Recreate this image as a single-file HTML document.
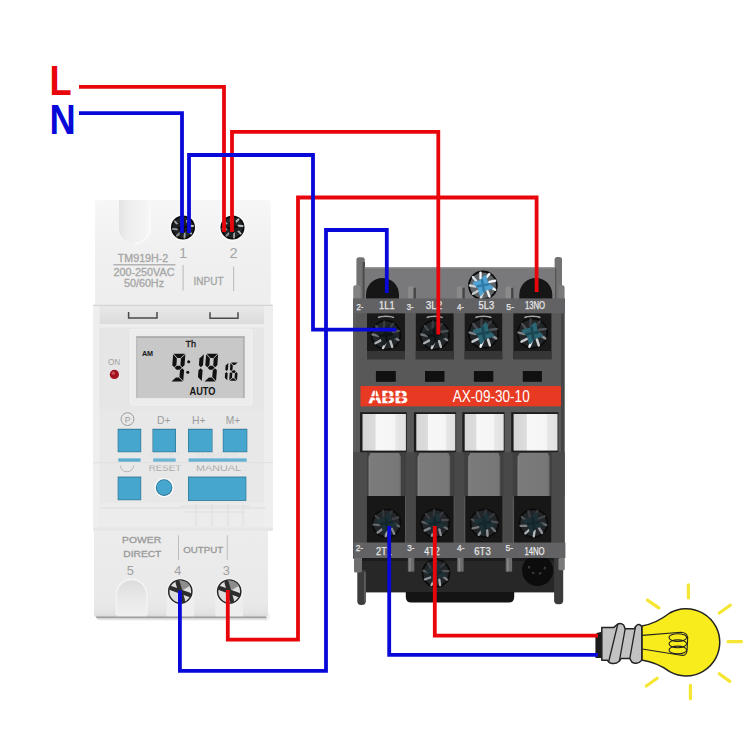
<!DOCTYPE html>
<html><head><meta charset="utf-8"><title>wiring</title>
<style>
html,body{margin:0;padding:0;background:#fff;}
body{width:750px;height:750px;overflow:hidden;font-family:"Liberation Sans",sans-serif;}
svg{display:block;font-family:"Liberation Sans",sans-serif;}
</style></head><body>
<svg width="750" height="750" viewBox="0 0 750 750">
<defs>
<linearGradient id="tbody" x1="0" x2="1" y1="0" y2="0">
 <stop offset="0" stop-color="#ececec"/><stop offset="0.04" stop-color="#f4f4f4"/><stop offset="0.95" stop-color="#f3f3f3"/><stop offset="1" stop-color="#e6e6e6"/>
</linearGradient>
<linearGradient id="tbot" x1="0" x2="0" y1="0" y2="1">
 <stop offset="0" stop-color="#ececec"/><stop offset="0.85" stop-color="#e9e9e9"/><stop offset="0.96" stop-color="#e2e2e2"/><stop offset="1" stop-color="#d4d4d4"/>
</linearGradient>
<linearGradient id="cband" x1="0" x2="0" y1="0" y2="1">
 <stop offset="0" stop-color="#e8e8e8"/><stop offset="1" stop-color="#dcdcdc"/>
</linearGradient>
<linearGradient id="ttop" x1="0" x2="0" y1="0" y2="1">
 <stop offset="0" stop-color="#f7f7f7"/><stop offset="0.5" stop-color="#f0f0f0"/><stop offset="1" stop-color="#eeeeee"/>
</linearGradient>
<linearGradient id="slotb" x1="0" x2="0" y1="0" y2="1">
 <stop offset="0" stop-color="#dcdcdc"/><stop offset="0.5" stop-color="#e9e9e9"/><stop offset="1" stop-color="#f0f0f0"/>
</linearGradient>
<linearGradient id="slot" x1="0" x2="1" y1="0" y2="0">
 <stop offset="0" stop-color="#e4e4e4"/><stop offset="0.3" stop-color="#eeeeee"/><stop offset="0.85" stop-color="#f3f3f3"/><stop offset="1" stop-color="#f8f8f8"/>
</linearGradient>
<radialGradient id="scrD" cx="0.5" cy="0.5" r="0.5">
 <stop offset="0" stop-color="#3a4448"/><stop offset="0.55" stop-color="#2a2f31"/><stop offset="0.8" stop-color="#6d7375"/><stop offset="1" stop-color="#151515"/>
</radialGradient>
<radialGradient id="scrL" cx="0.5" cy="0.5" r="0.5">
 <stop offset="0" stop-color="#777"/><stop offset="0.6" stop-color="#cfcfcf"/><stop offset="0.9" stop-color="#e8e8e8"/><stop offset="1" stop-color="#9a9a9a"/>
</radialGradient>
<radialGradient id="scrB" cx="0.5" cy="0.5" r="0.5">
 <stop offset="0" stop-color="#4f9fc4"/><stop offset="0.45" stop-color="#5a8da6"/><stop offset="0.75" stop-color="#b9c3c8"/><stop offset="1" stop-color="#1a1a1a"/>
</radialGradient>
<linearGradient id="wblk" x1="0" x2="1" y1="0" y2="0">
 <stop offset="0" stop-color="#d6d6d6"/><stop offset="0.29" stop-color="#dcdcdc"/><stop offset="0.31" stop-color="#f7f7f7"/><stop offset="0.75" stop-color="#f5f5f5"/><stop offset="0.77" stop-color="#e7e7e7"/><stop offset="1" stop-color="#e0e0e0"/>
</linearGradient>
<linearGradient id="col" x1="0" x2="1" y1="0" y2="0">
 <stop offset="0" stop-color="#8a8a8a"/><stop offset="0.05" stop-color="#7b7b7b"/><stop offset="0.94" stop-color="#777"/><stop offset="1" stop-color="#5e5e5e"/>
</linearGradient>
</defs>
<rect width="750" height="750" fill="#fff"/>

<g id="timer">
<rect x="98" y="612" width="172" height="8.5" rx="4" fill="#f2f2f2"/>
<path d="M94 528 H268 V613.5 Q268 617.5 264 617.5 H98 Q94 617.5 94 613.5 Z" fill="url(#tbot)"/>
<path d="M95 304.5 V203 Q95 200 98 200 H268 Q270.8 200 270.8 203 V304.5 Z" fill="url(#ttop)"/>
<path d="M119 200 L119 228 A15.3 15.3 0 0 0 149.6 228 L149.6 200 Z" fill="url(#slot)"/><path d="M134.3 243.6 A15.6 15.6 0 0 0 150 228 V204" fill="none" stroke="#fbfbfb" stroke-width="1.4"/>
<circle cx="183" cy="227.5" r="13.5" fill="#fafafa"/><circle cx="232.5" cy="227.5" r="13.5" fill="#fafafa"/>
<circle cx="183.0" cy="227.5" r="12.0" fill="#0b0b0b"/><circle cx="183.0" cy="227.5" r="10.2" fill="#222628"/><line x1="188.3" y1="230.4" x2="191.2" y2="233.6" stroke="#b0b3b7" stroke-width="1.9" stroke-linecap="round"/><line x1="184.7" y1="233.3" x2="184.5" y2="237.6" stroke="#9da0a4" stroke-width="1.9" stroke-linecap="round"/><line x1="180.1" y1="232.8" x2="176.9" y2="235.7" stroke="#909397" stroke-width="1.9" stroke-linecap="round"/><line x1="177.2" y1="229.2" x2="172.9" y2="229.0" stroke="#8f9296" stroke-width="1.9" stroke-linecap="round"/><line x1="177.7" y1="224.6" x2="174.8" y2="221.4" stroke="#9b9ea2" stroke-width="1.9" stroke-linecap="round"/><line x1="181.3" y1="221.7" x2="181.5" y2="217.4" stroke="#aeb1b5" stroke-width="1.9" stroke-linecap="round"/><line x1="185.9" y1="222.2" x2="189.1" y2="219.3" stroke="#bcbfc3" stroke-width="1.9" stroke-linecap="round"/><line x1="188.8" y1="225.8" x2="193.1" y2="226.0" stroke="#bdc0c4" stroke-width="1.9" stroke-linecap="round"/><polygon points="190.2,229.3 184.8,230.6 181.2,234.7 179.9,229.3 175.8,225.7 181.2,224.4 184.8,220.3 186.1,225.7" fill="#1e1e1e" stroke="#1e1e1e" stroke-width="2.2" stroke-linejoin="round"/><path d="M178.7 228.4 L187.3 226.6 M182.1 223.2 L183.9 231.8" stroke="#0c0c0c" stroke-width="2.0" stroke-linecap="round"/>
<circle cx="232.5" cy="227.5" r="12.0" fill="#0b0b0b"/><circle cx="232.5" cy="227.5" r="10.2" fill="#222628"/><line x1="237.8" y1="230.4" x2="240.7" y2="233.6" stroke="#b0b3b7" stroke-width="1.9" stroke-linecap="round"/><line x1="234.2" y1="233.3" x2="234.0" y2="237.6" stroke="#9da0a4" stroke-width="1.9" stroke-linecap="round"/><line x1="229.6" y1="232.8" x2="226.4" y2="235.7" stroke="#909397" stroke-width="1.9" stroke-linecap="round"/><line x1="226.7" y1="229.2" x2="222.4" y2="229.0" stroke="#8f9296" stroke-width="1.9" stroke-linecap="round"/><line x1="227.2" y1="224.6" x2="224.3" y2="221.4" stroke="#9b9ea2" stroke-width="1.9" stroke-linecap="round"/><line x1="230.8" y1="221.7" x2="231.0" y2="217.4" stroke="#aeb1b5" stroke-width="1.9" stroke-linecap="round"/><line x1="235.4" y1="222.2" x2="238.6" y2="219.3" stroke="#bcbfc3" stroke-width="1.9" stroke-linecap="round"/><line x1="238.3" y1="225.8" x2="242.6" y2="226.0" stroke="#bdc0c4" stroke-width="1.9" stroke-linecap="round"/><polygon points="239.7,229.3 234.3,230.6 230.7,234.7 229.4,229.3 225.3,225.7 230.7,224.4 234.3,220.3 235.6,225.7" fill="#1e1e1e" stroke="#1e1e1e" stroke-width="2.2" stroke-linejoin="round"/><path d="M228.2 228.4 L236.8 226.6 M231.6 223.2 L233.4 231.8" stroke="#0c0c0c" stroke-width="2.0" stroke-linecap="round"/>
<g fill="#a6a6a6" stroke="#a6a6a6" stroke-width="0.3" font-size="10">
<text x="143" y="262" text-anchor="middle" textLength="50.5" lengthAdjust="spacingAndGlyphs">TM919H-2</text>
<text x="144" y="276.3" text-anchor="middle" textLength="61" lengthAdjust="spacingAndGlyphs">200-250VAC</text>
<text x="144" y="286.9" text-anchor="middle" textLength="40" lengthAdjust="spacingAndGlyphs">50/60Hz</text>
<text x="208.5" y="284.6" text-anchor="middle" textLength="30" lengthAdjust="spacingAndGlyphs">INPUT</text>
</g>
<rect x="113.5" y="264.4" width="62" height="0.9" fill="#8c8c8c"/>
<rect x="182.5" y="265" width="1.2" height="25.5" fill="#c0c0c0"/><rect x="233" y="266.5" width="1.2" height="24.5" fill="#c0c0c0"/>
<g fill="#a4a4a4" font-size="14.6"><text x="183" y="258.3" text-anchor="middle">1</text><text x="233.5" y="258.3" text-anchor="middle">2</text></g>
<rect x="93" y="304" width="180" height="227" rx="2.5" fill="#e8e8e8"/>
<rect x="93" y="305.2" width="180" height="1.1" fill="#cfcfcf"/>
<rect x="99.5" y="306.5" width="167" height="17.5" fill="url(#cband)"/>
<rect x="93" y="306" width="6.5" height="223" fill="#eeeeee"/>
<rect x="264" y="306" width="9" height="223" fill="#eeeeee"/>
<rect x="99.5" y="324" width="164.5" height="3.6" fill="#eeeeee"/>
<rect x="99.5" y="327.6" width="164.5" height="80" fill="#e6e6e6"/>
<rect x="99.5" y="407.6" width="164.5" height="3" fill="#e7e7e7"/>
<rect x="99.5" y="503" width="164.5" height="25" fill="#ececec"/>
<path d="M128.6 312 V318 H157 V312" fill="none" stroke="#4a4a4a" stroke-width="1.5"/>
<path d="M210 312.3 V318.2 H238 V312.3" fill="none" stroke="#4a4a4a" stroke-width="1.5"/>
<rect x="130.5" y="329.5" width="121.5" height="75.5" rx="1.5" fill="#ececec" stroke="#f2f2f2" stroke-width="1"/>
<rect x="136.2" y="336.3" width="108.4" height="61.8" fill="#c8c8c8"/>
<rect x="136.2" y="336.3" width="108.4" height="1.6" fill="#a8a8a8"/>
<rect x="243" y="336.3" width="1.6" height="61.8" fill="#b0b0b0"/>
<rect x="136.2" y="336.3" width="1.2" height="61.8" fill="#b8b8b8"/>
<g fill="#151515">
<text x="190.8" y="347.1" font-size="9.6" text-anchor="middle" textLength="10.6" lengthAdjust="spacingAndGlyphs" stroke="#151515" stroke-width="0.3">Th</text>
<text x="147.5" y="355.7" font-size="7.6" font-weight="bold" text-anchor="middle" textLength="11.2" lengthAdjust="spacingAndGlyphs">AM</text>
<text x="202.5" y="394.6" font-size="10.2" font-weight="bold" text-anchor="middle" textLength="26" lengthAdjust="spacingAndGlyphs">AUTO</text>
</g>
<g fill="#111"><polygon points="173.70,353.80 184.90,353.80 180.48,357.90 177.48,357.90"/><polygon points="185.36,354.30 180.94,358.40 180.40,365.15 182.29,367.20 184.50,365.15"/><polygon points="183.24,381.10 179.46,377.00 180.00,370.25 182.21,368.20 184.10,370.25"/><polygon points="171.50,381.60 182.70,381.60 178.92,377.50 175.92,377.50"/><polygon points="173.16,354.30 176.94,358.40 176.40,365.15 174.19,367.20 172.30,365.15"/><polygon points="174.65,367.70 176.86,365.65 179.86,365.65 181.75,367.70 179.54,369.75 176.54,369.75"/></g>
<g fill="#111"><polygon points="203.86,354.30 199.44,358.40 198.90,365.15 200.79,367.20 203.00,365.15"/><polygon points="201.74,381.10 197.96,377.00 198.50,370.25 200.71,368.20 202.60,370.25"/></g>
<g fill="#111"><polygon points="206.70,353.80 217.70,353.80 213.28,357.90 210.48,357.90"/><polygon points="218.16,354.30 213.74,358.40 213.20,365.15 215.09,367.20 217.30,365.15"/><polygon points="216.04,381.10 212.26,377.00 212.80,370.25 215.01,368.20 216.90,370.25"/><polygon points="204.50,381.60 215.50,381.60 211.72,377.50 208.92,377.50"/><polygon points="206.16,354.30 209.94,358.40 209.40,365.15 207.19,367.20 205.30,365.15"/><polygon points="207.65,367.70 209.86,365.65 212.66,365.65 214.55,367.70 212.34,369.75 209.54,369.75"/></g>
<circle cx="188.7" cy="361.8" r="1.5" fill="#111"/><circle cx="187.8" cy="372.3" r="1.5" fill="#111"/>
<g fill="#111"><polygon points="228.37,362.90 225.60,365.50 225.32,369.80 226.53,371.10 227.92,369.80"/><polygon points="227.23,380.30 224.80,377.70 225.08,373.40 226.47,372.10 227.68,373.40"/></g>
<g fill="#111"><polygon points="230.90,362.40 237.70,362.40 234.93,365.00 233.33,365.00"/><polygon points="230.37,362.90 232.80,365.50 232.52,369.80 231.13,371.10 229.92,369.80"/><polygon points="231.60,371.60 232.98,370.30 234.58,370.30 235.80,371.60 234.42,372.90 232.82,372.90"/><polygon points="229.23,380.30 232.00,377.70 232.28,373.40 231.07,372.10 229.68,373.40"/><polygon points="229.70,380.80 236.50,380.80 234.07,378.20 232.47,378.20"/><polygon points="237.03,380.30 234.60,377.70 234.88,373.40 236.27,372.10 237.48,373.40"/></g>
<text x="114" y="364.8" font-size="8.2" fill="#a2a2a2" text-anchor="middle" textLength="12.2" lengthAdjust="spacingAndGlyphs">ON</text>
<circle cx="114.4" cy="374.4" r="4.6" fill="#a3131f"/><circle cx="113.4" cy="373.2" r="1.6" fill="#c8525a"/>
<g fill="#9c9c9c" font-size="10.8">
<circle cx="127.5" cy="419.1" r="6.4" fill="none" stroke="#9c9c9c" stroke-width="1"/>
<text x="127.5" y="422.6" font-size="8.5" text-anchor="middle">P</text>
<text x="163.8" y="423.6" text-anchor="middle" textLength="13.5" lengthAdjust="spacingAndGlyphs">D+</text>
<text x="198.8" y="423.6" text-anchor="middle" textLength="13.5" lengthAdjust="spacingAndGlyphs">H+</text>
<text x="233" y="423.6" text-anchor="middle" textLength="14.5" lengthAdjust="spacingAndGlyphs">M+</text>
</g>
<rect x="117.7" y="428.8" width="23.5" height="23.4" fill="#2c6f8c"/>
<rect x="118.3" y="429.6" width="22.3" height="22" fill="#46a6ce"/>
<rect x="152.5" y="428.8" width="23.5" height="23.4" fill="#2c6f8c"/>
<rect x="153.1" y="429.6" width="22.3" height="22" fill="#46a6ce"/>
<rect x="188.0" y="428.8" width="24.5" height="23.4" fill="#2c6f8c"/>
<rect x="188.6" y="429.6" width="23.3" height="22" fill="#46a6ce"/>
<rect x="222.8" y="428.8" width="24.5" height="23.4" fill="#2c6f8c"/>
<rect x="223.4" y="429.6" width="23.3" height="22" fill="#46a6ce"/>
<g fill="#b9b9b9" font-size="8.6" opacity="0.16"><text x="165" y="457.6" text-anchor="middle" textLength="32" lengthAdjust="spacingAndGlyphs">RESET</text><text x="218" y="457.6" text-anchor="middle" textLength="44" lengthAdjust="spacingAndGlyphs">MANUAL</text></g>
<rect x="118.3" y="458.4" width="22.3" height="3.3" fill="#58acce"/>
<rect x="153.1" y="458.4" width="22.6" height="3.3" fill="#6db5d3"/>
<rect x="188.6" y="458.4" width="58.1" height="3.3" fill="#64b1d1"/>
<rect x="93" y="462.2" width="180" height="1" fill="#e0e0e0"/>
<g fill="#acacac" font-size="9.4"><text x="165" y="471.2" text-anchor="middle" textLength="32.5" lengthAdjust="spacingAndGlyphs">RESET</text><text x="218.5" y="471.2" text-anchor="middle" textLength="45" lengthAdjust="spacingAndGlyphs">MANUAL</text></g>
<path d="M120.2 465 A6.8 6.8 0 0 0 133.8 465" fill="none" stroke="#b0b0b0" stroke-width="0.9"/>
<rect x="115" y="463.2" width="140" height="2.4" fill="#e8e8e8" opacity="0.75"/>
<rect x="117.7" y="476.6" width="23.5" height="23.6" fill="#2c6f8c"/><rect x="118.3" y="477.4" width="22.3" height="22.2" fill="#46a6ce"/>
<circle cx="164.1" cy="487.6" r="10.2" fill="#fdfdfd" stroke="#e4e4e4" stroke-width="0.8"/><circle cx="164.1" cy="487.6" r="8.3" fill="#2c7596"/><circle cx="164.1" cy="487.4" r="7.4" fill="#46a6ce"/>
<rect x="188" y="476.6" width="58.3" height="24.3" fill="#2c6f8c"/><rect x="188.6" y="477.4" width="57.1" height="22.9" fill="#46a6ce"/>
<g fill="none" stroke="#dedede" stroke-width="1"><path d="M180 506 H250 M185 512 H245 M196 503 V526 M212 503 V526 M228 503 V526 M243 503 V526 M100 508 H266"/></g>
<rect x="93" y="527.5" width="180" height="3.5" rx="1.5" fill="#e6e6e6"/>
<g fill="#9a9a9a" stroke="#9a9a9a" stroke-width="0.3" font-size="9.2"><text x="141.6" y="543.4" text-anchor="middle" textLength="39" lengthAdjust="spacingAndGlyphs">POWER</text><text x="142.3" y="557.3" text-anchor="middle" textLength="38" lengthAdjust="spacingAndGlyphs">DIRECT</text><text x="203.2" y="552.7" text-anchor="middle" textLength="40" lengthAdjust="spacingAndGlyphs">OUTPUT</text></g>
<rect x="178" y="535.3" width="1" height="24.5" fill="#bdbdbd"/><rect x="226.8" y="535.3" width="1" height="24.5" fill="#bdbdbd"/>
<g fill="#a0a0a0" font-size="12.8"><text x="130.3" y="575.3" text-anchor="middle">5</text><text x="177.8" y="575.3" text-anchor="middle">4</text><text x="226.3" y="575.3" text-anchor="middle">3</text></g>
<path d="M117 617.5 V594.6 A14.6 14.6 0 0 1 146.3 594.6 V617.5 Z" fill="url(#slotb)"/><path d="M116.4 615 V594.6 A15.2 15.2 0 0 1 146.9 594.6 V615" fill="none" stroke="#f3f3f3" stroke-width="1.6"/>
<rect x="166.5" y="591" width="27.6" height="26" fill="#eeeeee"/>
<circle cx="180.3" cy="591.5" r="13.8" fill="#f1f1f1"/>
<circle cx="180.3" cy="591.5" r="11.6" fill="#dcdcdc" stroke="#262626" stroke-width="1.5"/>
<path d="M177.3 581 A11 11 0 0 1 189.8 586 L180.3 591.5 Z" fill="#8d8d8d"/>
<path d="M177.7 582.5 L182.9 600.5 M171.3 588.2 L189.3 594.8" stroke="#2c2c2c" stroke-width="4.4" stroke-linecap="round" fill="none"/>
<rect x="215.4" y="591" width="27.6" height="26" fill="#eeeeee"/>
<circle cx="229.2" cy="591.5" r="13.8" fill="#f1f1f1"/>
<circle cx="229.2" cy="591.5" r="11.6" fill="#dcdcdc" stroke="#262626" stroke-width="1.5"/>
<path d="M226.2 581 A11 11 0 0 1 238.7 586 L229.2 591.5 Z" fill="#8d8d8d"/>
<path d="M226.6 582.5 L231.8 600.5 M220.2 588.2 L238.2 594.8" stroke="#2c2c2c" stroke-width="4.4" stroke-linecap="round" fill="none"/>
<rect x="96" y="616.6" width="170.5" height="1.5" rx="0.7" fill="#9e9e9e"/><rect x="97" y="618.1" width="170" height="1.5" rx="0.7" fill="#d6d6d6"/>
</g>
<g id="contactor">
<rect x="356.4" y="257.2" width="8.4" height="45" rx="2.6" fill="#727272"/><rect x="362.6" y="262" width="2.4" height="38" fill="#4c4c4c"/>
<rect x="554.6" y="256.9" width="7.4" height="45" rx="2.6" fill="#727272"/><rect x="554.6" y="268" width="1.6" height="31" fill="#4c4c4c"/>
<rect x="353.2" y="285.2" width="7.4" height="16" rx="2.2" fill="#828282"/>
<rect x="558.4" y="285.2" width="6.2" height="16" rx="2.2" fill="#7a7a7a"/>
<rect x="364.6" y="267.4" width="190.6" height="33" fill="#79797b"/>
<rect x="364.6" y="267.4" width="190.6" height="1.2" fill="#8a8a8c"/>
<rect x="353" y="299" width="211.5" height="259.5" fill="#585858"/>
<rect x="353" y="299" width="3" height="259" fill="#5d5d5d"/><rect x="561" y="299" width="3.5" height="259" fill="#454545"/>
<path d="M366.0 299 V294.5 A16.5 16.5 0 0 1 399.0 294.5 V299 Z" fill="#161616"/>
<path d="M519.3 299 V294.5 A16.5 16.5 0 0 1 552.3 294.5 V299 Z" fill="#161616"/>
<rect x="407.9" y="286.6" width="7.8" height="12.4" rx="1.5" fill="#8a8a8a"/><rect x="413.5" y="287.6" width="2.4" height="11.4" fill="#444"/>
<rect x="456.8" y="286.6" width="7.8" height="12.4" rx="1.5" fill="#8a8a8a"/><rect x="462.4" y="287.6" width="2.4" height="11.4" fill="#444"/>
<rect x="505.5" y="286.6" width="7.8" height="12.4" rx="1.5" fill="#8a8a8a"/><rect x="511.1" y="287.6" width="2.4" height="11.4" fill="#444"/>
<circle cx="482.9" cy="285.4" r="14.8" fill="#0b0b0b"/><circle cx="482.9" cy="285.4" r="13.0" fill="#5e6468"/><line x1="490.2" y1="286.9" x2="495.2" y2="289.7" stroke="#f5f8fc" stroke-width="2.4" stroke-linecap="round"/><line x1="487.5" y1="291.2" x2="489.5" y2="296.6" stroke="#eef1f5" stroke-width="2.4" stroke-linecap="round"/><line x1="482.7" y1="292.8" x2="480.8" y2="298.2" stroke="#d5d8dc" stroke-width="2.4" stroke-linecap="round"/><line x1="478.0" y1="290.9" x2="473.0" y2="293.8" stroke="#c7cace" stroke-width="2.4" stroke-linecap="round"/><line x1="475.6" y1="286.5" x2="469.9" y2="285.5" stroke="#cbced2" stroke-width="2.4" stroke-linecap="round"/><line x1="476.6" y1="281.5" x2="472.9" y2="277.1" stroke="#dee1e5" stroke-width="2.4" stroke-linecap="round"/><line x1="480.5" y1="278.4" x2="480.5" y2="272.6" stroke="#f5f8fc" stroke-width="2.4" stroke-linecap="round"/><line x1="485.6" y1="278.5" x2="489.3" y2="274.1" stroke="#f5f8fc" stroke-width="2.4" stroke-linecap="round"/><line x1="489.4" y1="281.9" x2="495.1" y2="280.8" stroke="#f5f8fc" stroke-width="2.4" stroke-linecap="round"/><polygon points="491.8,287.7 485.2,289.2 480.6,294.3 479.1,287.7 474.0,283.1 480.6,281.6 485.2,276.5 486.7,283.1" fill="#4fa2d2" stroke="#4fa2d2" stroke-width="2.7" stroke-linejoin="round"/><path d="M477.6 286.3 L488.2 284.5 M482.0 280.1 L483.8 290.7" stroke="#2f7aa6" stroke-width="2.5" stroke-linecap="round"/>
<rect x="353" y="298.4" width="212" height="15" fill="#626264"/>
<g fill="#e8e8e8" stroke="#e8e8e8" stroke-width="0.25">
<text x="386.8" y="308.5" font-size="10.4" text-anchor="middle" textLength="15.6" lengthAdjust="spacingAndGlyphs">1L1</text>
<text x="434.0" y="308.5" font-size="10.4" text-anchor="middle" textLength="16.5" lengthAdjust="spacingAndGlyphs">3L2</text>
<text x="486.4" y="308.5" font-size="10.4" text-anchor="middle" textLength="15.6" lengthAdjust="spacingAndGlyphs">5L3</text>
<text x="535.0" y="308.5" font-size="10.4" text-anchor="middle" textLength="20.2" lengthAdjust="spacingAndGlyphs">13NO</text>
<text x="360.0" y="310" font-size="9.8" text-anchor="middle" textLength="7" lengthAdjust="spacingAndGlyphs">2-</text>
<text x="410.2" y="310" font-size="9.8" text-anchor="middle" textLength="7" lengthAdjust="spacingAndGlyphs">3-</text>
<text x="460.5" y="310" font-size="9.8" text-anchor="middle" textLength="7" lengthAdjust="spacingAndGlyphs">4-</text>
<text x="510.2" y="310" font-size="9.8" text-anchor="middle" textLength="7.8" lengthAdjust="spacingAndGlyphs">5-</text>
</g>
<rect x="367.0" y="313.4" width="38.0" height="45.8" fill="#1a1a1a"/>
<rect x="367.0" y="351" width="38.0" height="8.2" fill="#363636"/>
<circle cx="386.0" cy="335.0" r="15.2" fill="#0b0b0b"/><circle cx="386.0" cy="335.0" r="13.4" fill="#222628"/><line x1="393.4" y1="336.9" x2="398.4" y2="340.1" stroke="#7d8084" stroke-width="2.4" stroke-linecap="round"/><line x1="390.4" y1="341.2" x2="392.2" y2="346.9" stroke="#b6b9bd" stroke-width="2.4" stroke-linecap="round"/><line x1="385.4" y1="342.6" x2="383.1" y2="348.1" stroke="#cbced2" stroke-width="2.4" stroke-linecap="round"/><line x1="380.7" y1="340.4" x2="375.4" y2="343.2" stroke="#abaeb2" stroke-width="2.4" stroke-linecap="round"/><line x1="378.4" y1="335.8" x2="372.6" y2="334.5" stroke="#717478" stroke-width="2.4" stroke-linecap="round"/><line x1="379.7" y1="330.7" x2="376.1" y2="326.0" stroke="#45484c" stroke-width="2.4" stroke-linecap="round"/><line x1="383.9" y1="327.7" x2="384.2" y2="321.7" stroke="#383b3f" stroke-width="2.4" stroke-linecap="round"/><line x1="389.1" y1="328.1" x2="393.2" y2="323.7" stroke="#393c40" stroke-width="2.4" stroke-linecap="round"/><line x1="392.8" y1="331.7" x2="398.8" y2="330.9" stroke="#4c4f53" stroke-width="2.4" stroke-linecap="round"/><polygon points="395.1,337.3 388.3,338.9 383.7,344.1 382.1,337.3 376.9,332.7 383.7,331.1 388.3,325.9 389.9,332.7" fill="#182022" stroke="#182022" stroke-width="2.7" stroke-linejoin="round"/><path d="M380.5 335.9 L391.5 334.1 M385.1 329.5 L386.9 340.5" stroke="#0e1416" stroke-width="2.6" stroke-linecap="round"/>
<path d="M378.0 317.6 A9 2.6 0 0 1 394.0 317.6" stroke="#a5a5a5" stroke-width="1.5" fill="none"/>
<rect x="415.8" y="313.4" width="37.8" height="45.8" fill="#1a1a1a"/>
<rect x="415.8" y="351" width="37.8" height="8.2" fill="#363636"/>
<circle cx="434.7" cy="335.0" r="15.2" fill="#0b0b0b"/><circle cx="434.7" cy="335.0" r="13.4" fill="#222628"/><line x1="442.1" y1="336.9" x2="447.1" y2="340.1" stroke="#7d8084" stroke-width="2.4" stroke-linecap="round"/><line x1="439.1" y1="341.2" x2="440.9" y2="346.9" stroke="#b6b9bd" stroke-width="2.4" stroke-linecap="round"/><line x1="434.1" y1="342.6" x2="431.8" y2="348.1" stroke="#cbced2" stroke-width="2.4" stroke-linecap="round"/><line x1="429.4" y1="340.4" x2="424.1" y2="343.2" stroke="#abaeb2" stroke-width="2.4" stroke-linecap="round"/><line x1="427.1" y1="335.8" x2="421.3" y2="334.5" stroke="#717478" stroke-width="2.4" stroke-linecap="round"/><line x1="428.4" y1="330.7" x2="424.8" y2="326.0" stroke="#45484c" stroke-width="2.4" stroke-linecap="round"/><line x1="432.6" y1="327.7" x2="432.9" y2="321.7" stroke="#383b3f" stroke-width="2.4" stroke-linecap="round"/><line x1="437.8" y1="328.1" x2="441.9" y2="323.7" stroke="#393c40" stroke-width="2.4" stroke-linecap="round"/><line x1="441.5" y1="331.7" x2="447.5" y2="330.9" stroke="#4c4f53" stroke-width="2.4" stroke-linecap="round"/><polygon points="443.8,337.3 437.0,338.9 432.4,344.1 430.8,337.3 425.6,332.7 432.4,331.1 437.0,325.9 438.6,332.7" fill="#182022" stroke="#182022" stroke-width="2.7" stroke-linejoin="round"/><path d="M429.2 335.9 L440.2 334.1 M433.8 329.5 L435.6 340.5" stroke="#0e1416" stroke-width="2.6" stroke-linecap="round"/>
<path d="M426.7 317.6 A9 2.6 0 0 1 442.7 317.6" stroke="#a5a5a5" stroke-width="1.5" fill="none"/>
<rect x="464.7" y="313.4" width="37.5" height="45.8" fill="#1a1a1a"/>
<rect x="464.7" y="351" width="37.5" height="8.2" fill="#363636"/>
<circle cx="483.4" cy="333.2" r="15.6" fill="#0b0b0b"/><circle cx="483.4" cy="333.2" r="13.8" fill="#222628"/><line x1="491.0" y1="335.1" x2="496.2" y2="338.4" stroke="#8d9094" stroke-width="2.5" stroke-linecap="round"/><line x1="488.0" y1="339.5" x2="489.9" y2="345.4" stroke="#d1d4d8" stroke-width="2.5" stroke-linecap="round"/><line x1="482.9" y1="341.0" x2="480.5" y2="346.7" stroke="#eaedf1" stroke-width="2.5" stroke-linecap="round"/><line x1="478.0" y1="338.8" x2="472.5" y2="341.6" stroke="#c4c7cb" stroke-width="2.5" stroke-linecap="round"/><line x1="475.7" y1="334.0" x2="469.7" y2="332.6" stroke="#7e8185" stroke-width="2.5" stroke-linecap="round"/><line x1="477.0" y1="328.8" x2="473.3" y2="323.9" stroke="#4a4d51" stroke-width="2.5" stroke-linecap="round"/><line x1="481.3" y1="325.7" x2="481.6" y2="319.5" stroke="#3b3e42" stroke-width="2.5" stroke-linecap="round"/><line x1="486.7" y1="326.1" x2="490.8" y2="321.5" stroke="#3c3f43" stroke-width="2.5" stroke-linecap="round"/><line x1="490.5" y1="329.8" x2="496.6" y2="329.0" stroke="#525559" stroke-width="2.5" stroke-linecap="round"/><polygon points="492.8,335.6 485.8,337.2 481.1,342.6 479.4,335.6 474.1,330.8 481.1,329.2 485.8,323.8 487.5,330.8" fill="#2c6574" stroke="#2c6574" stroke-width="2.8" stroke-linejoin="round"/><path d="M477.8 334.1 L489.1 332.3 M482.6 327.6 L484.3 338.8" stroke="#1b4752" stroke-width="2.7" stroke-linecap="round"/>
<path d="M475.4 317.6 A9 2.6 0 0 1 491.4 317.6" stroke="#a5a5a5" stroke-width="1.5" fill="none"/>
<rect x="513.4" y="313.4" width="38.0" height="45.8" fill="#1a1a1a"/>
<rect x="513.4" y="351" width="38.0" height="8.2" fill="#363636"/>
<circle cx="532.4" cy="333.2" r="15.6" fill="#0b0b0b"/><circle cx="532.4" cy="333.2" r="13.8" fill="#222628"/><line x1="540.0" y1="335.1" x2="545.2" y2="338.4" stroke="#8d9094" stroke-width="2.5" stroke-linecap="round"/><line x1="536.9" y1="339.5" x2="538.8" y2="345.4" stroke="#d1d4d8" stroke-width="2.5" stroke-linecap="round"/><line x1="531.8" y1="341.0" x2="529.4" y2="346.7" stroke="#eaedf1" stroke-width="2.5" stroke-linecap="round"/><line x1="527.0" y1="338.8" x2="521.5" y2="341.6" stroke="#c4c7cb" stroke-width="2.5" stroke-linecap="round"/><line x1="524.6" y1="334.0" x2="518.6" y2="332.6" stroke="#7e8185" stroke-width="2.5" stroke-linecap="round"/><line x1="526.0" y1="328.8" x2="522.2" y2="323.9" stroke="#4a4d51" stroke-width="2.5" stroke-linecap="round"/><line x1="530.3" y1="325.7" x2="530.6" y2="319.5" stroke="#3b3e42" stroke-width="2.5" stroke-linecap="round"/><line x1="535.6" y1="326.1" x2="539.8" y2="321.5" stroke="#3c3f43" stroke-width="2.5" stroke-linecap="round"/><line x1="539.4" y1="329.8" x2="545.6" y2="329.0" stroke="#525559" stroke-width="2.5" stroke-linecap="round"/><polygon points="541.8,335.6 534.8,337.2 530.0,342.6 528.4,335.6 523.0,330.8 530.0,329.2 534.8,323.8 536.4,330.8" fill="#2c6574" stroke="#2c6574" stroke-width="2.8" stroke-linejoin="round"/><path d="M526.8 334.1 L538.0 332.3 M531.5 327.6 L533.3 338.8" stroke="#1b4752" stroke-width="2.7" stroke-linecap="round"/>
<path d="M524.4 317.6 A9 2.6 0 0 1 540.4 317.6" stroke="#a5a5a5" stroke-width="1.5" fill="none"/>
<rect x="375.9" y="371" width="19.9" height="10.8" fill="#101010"/>
<rect x="425.0" y="371" width="19.5" height="10.8" fill="#101010"/>
<rect x="473.9" y="371" width="19.4" height="10.8" fill="#101010"/>
<rect x="522.8" y="371" width="19.1" height="10.8" fill="#101010"/>
<rect x="360.5" y="386" width="200.5" height="20.3" fill="#e83a22"/>
<text transform="translate(368.4,402.9) scale(1.07,1)" fill="#fff" stroke="#fff" stroke-width="0.45" font-weight="bold" font-size="17">ABB</text>
<rect x="368" y="396.3" width="40" height="1.1" fill="#e83a22"/>
<rect x="374.8" y="390" width="0.9" height="13" fill="#e83a22"/><rect x="387.6" y="390" width="0.9" height="13" fill="#e83a22"/><rect x="400.6" y="390" width="0.9" height="13" fill="#e83a22"/>
<text x="491.2" y="401.6" fill="#fff" font-size="15.8" text-anchor="middle" textLength="77" lengthAdjust="spacingAndGlyphs">AX-09-30-10</text>
<rect x="360.1" y="412.2" width="46.6" height="40.4" fill="#1c1c1c"/>
<rect x="362.5" y="414" width="43.4" height="36.6" fill="url(#wblk)"/>
<rect x="413.9" y="412.2" width="42.2" height="40.4" fill="#1c1c1c"/>
<rect x="416.3" y="414" width="39.0" height="36.6" fill="url(#wblk)"/>
<rect x="462.3" y="412.2" width="42.2" height="40.4" fill="#1c1c1c"/>
<rect x="464.7" y="414" width="39.0" height="36.6" fill="url(#wblk)"/>
<rect x="511.2" y="412.2" width="47.1" height="40.4" fill="#1c1c1c"/>
<rect x="513.6" y="414" width="43.9" height="36.6" fill="url(#wblk)"/>
<rect x="353" y="452.5" width="211.5" height="44" fill="#404040"/>
<path d="M368.6 496.5 V457 L370.6 453 H399.0 L401.0 457 V496.5 Z" fill="url(#col)"/>
<path d="M417.6 496.5 V457 L419.6 453 H448.3 L450.3 457 V496.5 Z" fill="url(#col)"/>
<path d="M468.2 496.5 V457 L470.2 453 H498.3 L500.3 457 V496.5 Z" fill="url(#col)"/>
<path d="M517.6 496.5 V457 L519.6 453 H547.7 L549.7 457 V496.5 Z" fill="url(#col)"/>
<rect x="353" y="452.5" width="14" height="106" fill="#4b4b4b"/><rect x="552" y="452.5" width="12.5" height="106" fill="#4a4a4a"/>
<rect x="406.0" y="452.5" width="9.5" height="106" fill="#484848"/>
<rect x="454.5" y="452.5" width="9.5" height="106" fill="#484848"/>
<rect x="503.2" y="452.5" width="9.5" height="106" fill="#484848"/>
<rect x="366.9" y="496" width="38.1" height="46.8" fill="#171717"/>
<circle cx="386.6" cy="523.2" r="14.8" fill="#0b0b0b"/><circle cx="386.6" cy="523.2" r="13.0" fill="#222628"/><line x1="393.9" y1="523.9" x2="399.2" y2="526.3" stroke="#5a5d61" stroke-width="2.4" stroke-linecap="round"/><line x1="391.7" y1="528.5" x2="394.2" y2="533.7" stroke="#828589" stroke-width="2.4" stroke-linecap="round"/><line x1="387.1" y1="530.6" x2="385.7" y2="536.2" stroke="#989b9f" stroke-width="2.4" stroke-linecap="round"/><line x1="382.2" y1="529.2" x2="377.6" y2="532.6" stroke="#898c90" stroke-width="2.4" stroke-linecap="round"/><line x1="379.4" y1="525.0" x2="373.6" y2="524.6" stroke="#626569" stroke-width="2.4" stroke-linecap="round"/><line x1="379.9" y1="520.0" x2="375.7" y2="516.0" stroke="#404347" stroke-width="2.4" stroke-linecap="round"/><line x1="383.5" y1="516.5" x2="382.9" y2="510.7" stroke="#33363a" stroke-width="2.4" stroke-linecap="round"/><line x1="388.6" y1="516.1" x2="391.8" y2="511.3" stroke="#33363a" stroke-width="2.4" stroke-linecap="round"/><line x1="392.7" y1="519.0" x2="398.2" y2="517.5" stroke="#3c3f43" stroke-width="2.4" stroke-linecap="round"/><polygon points="395.4,525.5 388.8,527.0 384.3,532.1 382.7,525.5 377.7,520.9 384.3,519.4 388.8,514.3 390.4,520.9" fill="#1d3036" stroke="#1d3036" stroke-width="2.7" stroke-linejoin="round"/><path d="M381.2 524.1 L391.9 522.3 M385.7 517.9 L387.4 528.5" stroke="#12262b" stroke-width="2.5" stroke-linecap="round"/>
<rect x="415.8" y="496" width="37.8" height="46.8" fill="#171717"/>
<circle cx="435.3" cy="523.2" r="14.8" fill="#0b0b0b"/><circle cx="435.3" cy="523.2" r="13.0" fill="#222628"/><line x1="442.4" y1="525.4" x2="447.1" y2="528.7" stroke="#65686c" stroke-width="2.4" stroke-linecap="round"/><line x1="439.3" y1="529.4" x2="440.8" y2="535.0" stroke="#8c8f93" stroke-width="2.4" stroke-linecap="round"/><line x1="434.4" y1="530.5" x2="431.9" y2="535.7" stroke="#989b9f" stroke-width="2.4" stroke-linecap="round"/><line x1="429.9" y1="528.2" x2="424.6" y2="530.6" stroke="#808387" stroke-width="2.4" stroke-linecap="round"/><line x1="427.9" y1="523.6" x2="422.4" y2="522.0" stroke="#575a5e" stroke-width="2.4" stroke-linecap="round"/><line x1="429.4" y1="518.7" x2="426.1" y2="514.0" stroke="#3a3d41" stroke-width="2.4" stroke-linecap="round"/><line x1="433.7" y1="516.0" x2="434.2" y2="510.2" stroke="#33363a" stroke-width="2.4" stroke-linecap="round"/><line x1="438.7" y1="516.6" x2="442.8" y2="512.6" stroke="#34373b" stroke-width="2.4" stroke-linecap="round"/><line x1="442.1" y1="520.3" x2="447.9" y2="519.9" stroke="#424549" stroke-width="2.4" stroke-linecap="round"/><polygon points="444.2,525.5 437.6,527.0 433.0,532.1 431.5,525.5 426.4,520.9 433.0,519.4 437.6,514.3 439.1,520.9" fill="#1d3036" stroke="#1d3036" stroke-width="2.7" stroke-linejoin="round"/><path d="M430.0 524.1 L440.6 522.3 M434.4 517.9 L436.2 528.5" stroke="#12262b" stroke-width="2.5" stroke-linecap="round"/>
<rect x="465.3" y="496" width="37.2" height="46.8" fill="#171717"/>
<circle cx="484.5" cy="523.2" r="14.8" fill="#0b0b0b"/><circle cx="484.5" cy="523.2" r="13.0" fill="#222628"/><line x1="491.0" y1="526.7" x2="494.9" y2="531.0" stroke="#717478" stroke-width="2.4" stroke-linecap="round"/><line x1="487.2" y1="530.1" x2="487.5" y2="535.8" stroke="#93969a" stroke-width="2.4" stroke-linecap="round"/><line x1="482.1" y1="530.2" x2="478.7" y2="534.8" stroke="#94979b" stroke-width="2.4" stroke-linecap="round"/><line x1="478.2" y1="527.1" x2="472.6" y2="528.3" stroke="#74777b" stroke-width="2.4" stroke-linecap="round"/><line x1="477.2" y1="522.1" x2="472.0" y2="519.5" stroke="#4d5054" stroke-width="2.4" stroke-linecap="round"/><line x1="479.6" y1="517.6" x2="477.4" y2="512.3" stroke="#36393d" stroke-width="2.4" stroke-linecap="round"/><line x1="484.3" y1="515.8" x2="486.0" y2="510.3" stroke="#33363a" stroke-width="2.4" stroke-linecap="round"/><line x1="489.1" y1="517.4" x2="494.0" y2="514.3" stroke="#36393d" stroke-width="2.4" stroke-linecap="round"/><line x1="491.8" y1="521.7" x2="497.5" y2="522.4" stroke="#4a4d51" stroke-width="2.4" stroke-linecap="round"/><polygon points="493.4,525.5 486.8,527.0 482.2,532.1 480.7,525.5 475.6,520.9 482.2,519.4 486.8,514.3 488.3,520.9" fill="#1d3036" stroke="#1d3036" stroke-width="2.7" stroke-linejoin="round"/><path d="M479.2 524.1 L489.8 522.3 M483.6 517.9 L485.4 528.5" stroke="#12262b" stroke-width="2.5" stroke-linecap="round"/>
<rect x="514.1" y="496" width="37.3" height="46.8" fill="#171717"/>
<circle cx="533.4" cy="523.2" r="14.8" fill="#0b0b0b"/><circle cx="533.4" cy="523.2" r="13.0" fill="#222628"/><line x1="539.0" y1="528.0" x2="542.0" y2="532.9" stroke="#94979b" stroke-width="2.4" stroke-linecap="round"/><line x1="534.6" y1="530.5" x2="533.8" y2="536.2" stroke="#b5b8bc" stroke-width="2.4" stroke-linecap="round"/><line x1="529.6" y1="529.6" x2="525.3" y2="533.4" stroke="#a9acb0" stroke-width="2.4" stroke-linecap="round"/><line x1="526.4" y1="525.7" x2="520.6" y2="525.9" stroke="#7a7d81" stroke-width="2.4" stroke-linecap="round"/><line x1="526.4" y1="520.7" x2="521.9" y2="517.1" stroke="#4c4f53" stroke-width="2.4" stroke-linecap="round"/><line x1="529.7" y1="516.8" x2="528.5" y2="511.1" stroke="#383b3f" stroke-width="2.4" stroke-linecap="round"/><line x1="534.6" y1="515.9" x2="537.4" y2="510.8" stroke="#36393d" stroke-width="2.4" stroke-linecap="round"/><line x1="539.0" y1="518.5" x2="544.4" y2="516.3" stroke="#3e4145" stroke-width="2.4" stroke-linecap="round"/><line x1="540.7" y1="523.2" x2="546.2" y2="525.0" stroke="#616468" stroke-width="2.4" stroke-linecap="round"/><polygon points="542.2,525.5 535.6,527.0 531.1,532.1 529.5,525.5 524.5,520.9 531.1,519.4 535.6,514.3 537.2,520.9" fill="#1d3036" stroke="#1d3036" stroke-width="2.7" stroke-linejoin="round"/><path d="M528.0 524.1 L538.7 522.3 M532.5 517.9 L534.2 528.5" stroke="#12262b" stroke-width="2.5" stroke-linecap="round"/>
<rect x="353.4" y="542.6" width="212" height="15.4" fill="#626264"/>
<g fill="#e8e8e8" stroke="#e8e8e8" stroke-width="0.25">
<text x="384.0" y="554.6" font-size="10.8" text-anchor="middle" textLength="16" lengthAdjust="spacingAndGlyphs">2T1</text>
<text x="432.0" y="554.6" font-size="10.8" text-anchor="middle" textLength="15.4" lengthAdjust="spacingAndGlyphs">4T2</text>
<text x="482.5" y="554.6" font-size="10.8" text-anchor="middle" textLength="16.4" lengthAdjust="spacingAndGlyphs">6T3</text>
<text x="534.5" y="554.6" font-size="10.8" text-anchor="middle" textLength="20.2" lengthAdjust="spacingAndGlyphs">14NO</text>
<text x="359.4" y="551.2" font-size="9.8" text-anchor="middle" textLength="7.4" lengthAdjust="spacingAndGlyphs">2-</text>
<text x="410.8" y="551.2" font-size="9.8" text-anchor="middle" textLength="7.2" lengthAdjust="spacingAndGlyphs">3-</text>
<text x="460.9" y="551.2" font-size="9.8" text-anchor="middle" textLength="7.6" lengthAdjust="spacingAndGlyphs">4-</text>
<text x="509.4" y="551.2" font-size="9.8" text-anchor="middle" textLength="7.6" lengthAdjust="spacingAndGlyphs">5-</text>
</g>
<rect x="362" y="558" width="194" height="34.4" fill="#272727"/>
<rect x="362" y="558" width="193" height="3" fill="#1c1c1c"/>
<path d="M357.3 570 H365.8 V601 Q365.8 605 361.8 605 H361 Q357.3 605 357.3 601 Z" fill="#3c3c3c"/><rect x="364" y="572" width="1.8" height="30" fill="#5c5c5c"/>
<rect x="354" y="558" width="8" height="14.5" rx="1.5" fill="#6e6e6e"/>
<path d="M554.1 558 H563.2 V600.5 Q563.2 604.2 559.5 604.2 H558 Q554.1 604.2 554.1 600.5 Z" fill="#3a3a3a"/>
<rect x="558.4" y="558" width="6.4" height="12.2" rx="1.5" fill="#7a7a7a"/>
<path d="M405.8 592 H514.2 V597 Q514.2 602.6 508.6 602.6 H411.4 Q405.8 602.6 405.8 597 Z" fill="#141414"/>
<rect x="407.9" y="558" width="6.4" height="13.6" fill="#6c6c6c"/><rect x="409.3" y="558" width="1.4" height="13.6" fill="#8a8a8a"/>
<rect x="457.2" y="558" width="6.4" height="13.6" fill="#6c6c6c"/><rect x="458.6" y="558" width="1.4" height="13.6" fill="#8a8a8a"/>
<rect x="505.7" y="558" width="6.4" height="13.6" fill="#6c6c6c"/><rect x="507.1" y="558" width="1.4" height="13.6" fill="#8a8a8a"/>
<circle cx="436.0" cy="573.2" r="14.4" fill="#0b0b0b"/><circle cx="436.0" cy="573.2" r="12.6" fill="#222628"/><line x1="442.6" y1="576.0" x2="446.8" y2="579.7" stroke="#7e8185" stroke-width="2.3" stroke-linecap="round"/><line x1="439.3" y1="579.6" x2="440.1" y2="585.1" stroke="#acafb3" stroke-width="2.3" stroke-linecap="round"/><line x1="434.4" y1="580.2" x2="431.5" y2="585.0" stroke="#b4b7bb" stroke-width="2.3" stroke-linecap="round"/><line x1="430.3" y1="577.5" x2="425.0" y2="579.3" stroke="#909397" stroke-width="2.3" stroke-linecap="round"/><line x1="428.8" y1="572.8" x2="423.6" y2="570.8" stroke="#5d6064" stroke-width="2.3" stroke-linecap="round"/><line x1="430.7" y1="568.3" x2="428.1" y2="563.4" stroke="#3d4044" stroke-width="2.3" stroke-linecap="round"/><line x1="435.1" y1="566.1" x2="436.2" y2="560.6" stroke="#36393d" stroke-width="2.3" stroke-linecap="round"/><line x1="439.9" y1="567.2" x2="444.3" y2="563.7" stroke="#383b3f" stroke-width="2.3" stroke-linecap="round"/><line x1="442.9" y1="571.1" x2="448.4" y2="571.2" stroke="#4e5155" stroke-width="2.3" stroke-linecap="round"/><polygon points="444.7,575.4 438.2,576.9 433.8,581.9 432.3,575.4 427.3,571.0 433.8,569.5 438.2,564.5 439.7,571.0" fill="#1d3036" stroke="#1d3036" stroke-width="2.6" stroke-linejoin="round"/><path d="M430.8 574.1 L441.2 572.3 M435.1 568.0 L436.9 578.4" stroke="#12262b" stroke-width="2.4" stroke-linecap="round"/>
<path d="M528.1 558 A15.6 15.6 0 1 0 547.1 558 Z" fill="#0c0c0c"/><path d="M529 566 A8 8 0 0 0 545 566" fill="none" stroke="#3a3d3e" stroke-width="2" stroke-dasharray="2.6 4.6"/>
</g>
<g id="bulb">
<g stroke="#f4e632" stroke-width="3.2" stroke-linecap="round" fill="none">
<path d="M688.4 584.8 V598 M647.4 600.2 L658.8 607.8 M719.3 613 L730.3 605.3 M728 641.6 H741.5 M719.3 673.8 L729.8 681.4 M690.4 685.3 V698.8 M646.3 686 L657.2 678.3"/>
</g>
<path d="M641.8 626 C651 624.5 661 619.8 669.7 613 A33.6 33.6 0 1 1 669.7 671.6 C661 665.2 651 661.5 641.8 660 Z" fill="#f8ec1c" stroke="#222" stroke-width="1.5" stroke-linejoin="round"/>
<g fill="none" stroke="#222" stroke-width="1.1"><path d="M642.2 635.4 L681 632.2 Q688.5 632.5 687.6 640 L687 651 Q686.5 656 681 655.3 L642.2 649"/><ellipse cx="677.8" cy="637.6" rx="8.8" ry="3.9"/><ellipse cx="677.8" cy="643.8" rx="8.8" ry="3.9"/><ellipse cx="677.8" cy="650" rx="8.8" ry="3.9"/></g>
<path d="M596.6 633 L603 631.5 V658 H595.4 V636 Z" fill="#1c1c1c"/>
<path d="M601.8 627.4 H613.8 L617.8 624 Q621 622.8 623.6 625 L625.2 628.7 H634.6 L635.6 626.4 Q638.4 623 641 625.6 L641.8 627 V659.4 L641.6 660.4 Q638.4 664.4 634 663 L632 662.2 L629.8 658.6 H621 L619.2 661.2 Q615.4 664.6 611 663.2 L609 662.4 L607.4 660.2 H601.8 Z" fill="#c2c2c2" stroke="#222" stroke-width="1.5" stroke-linejoin="round"/>
<g fill="none" stroke="#222" stroke-width="1.3"><path d="M617.8 624 L608.6 662 M625.2 628.7 L619.4 661 M635.4 626.8 L629.8 658.6"/></g>
</g>
<g id="wires" fill="none" stroke-width="3.8" stroke-linejoin="miter" stroke-linecap="butt">
<g stroke="#e8060c">
<path d="M79 86.9 H224 V232"/>
<path d="M232 232 V131.8 H438.3 V334.5"/>
<path d="M227.8 590 V639.7 H298 V197.5 H536.6 V292"/>
<path d="M434.8 526 V635.7 H598"/>
</g>
<g stroke="#0808d8">
<path d="M79 113.2 H182 V233"/>
<path d="M189 233 V155 H313 V329.7 H396.3"/>
<path d="M179.9 590.5 V670.8 H326 V230 H386.8 V293"/>
<path d="M389.2 526 V654.9 H598"/>
</g></g>
<g font-weight="bold" font-size="42.2"><text transform="translate(49.4,95) scale(0.86,1)" fill="#e8060c">L</text><text transform="translate(49.5,133.6) scale(0.86,1)" fill="#0808d8">N</text></g>
</svg></body></html>
